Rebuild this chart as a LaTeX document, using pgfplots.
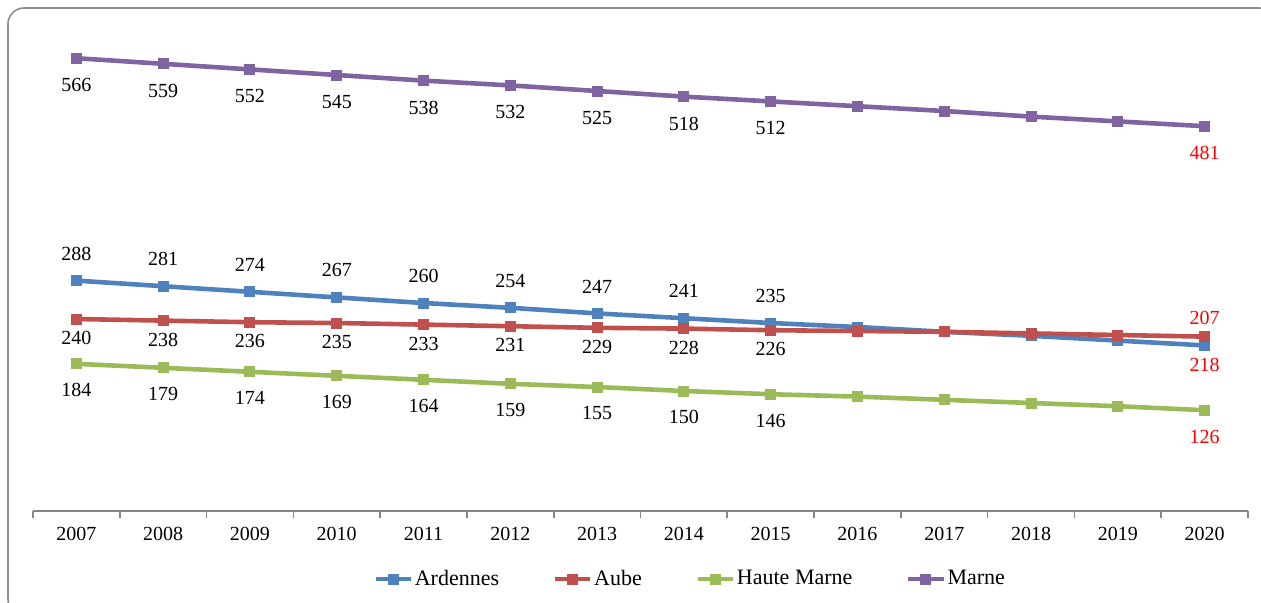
\documentclass[border=0pt]{standalone}
\usepackage{fontspec}
\setmainfont{Liberation Serif}
\usepackage{pgfplots}
\pgfplotsset{compat=1.18}
\definecolor{cArd}{HTML}{4F81BD}
\definecolor{cAube}{HTML}{C0504D}
\definecolor{cHM}{HTML}{9BBB59}
\definecolor{cMarne}{HTML}{8064A2}
\definecolor{frameg}{HTML}{8C8C8C}
\definecolor{axisg}{HTML}{868686}
\begin{document}
\begin{tikzpicture}
\useasboundingbox (-16.5pt,-45.5pt) rectangle (614pt,255.5pt);
\draw[rounded corners=8pt, color=frameg, line width=0.8pt] (-12.5pt,-52pt) rectangle (621pt,251.5pt);
\begin{axis}[
  scale only axis, width=607.5pt, height=240pt,
  xmin=2006.5, xmax=2020.5, ymin=0, ymax=600,
  axis y line=none, axis x line*=bottom,
  x axis line style={-, draw=axisg, line width=0.9pt},
  xtick={2007,2008,...,2020}, major tick length=0pt,
  minor xtick={2006.5,2007.5,...,2020.5}, minor tick length=3.5pt,
  tick align=outside,
  minor tick style={draw=axisg, line width=0.8pt},
  x tick label style={/pgf/number format/1000 sep={}, yshift=-4.5pt, font=\fontsize{10}{12}\selectfont, text=black},
  /pgf/number format/assume math mode=true,
  clip=false,
  legend columns=4,
  legend cell align=left,
  legend style={draw=none, fill=none, at={(rel axis cs:0.5407,-0.1417)}, anchor=center,
    font=\fontsize{11}{12}\selectfont,
    nodes={inner xsep=0.8pt},
    /tikz/every even column/.append style={column sep=26pt}},
  legend image code/.code={\draw[mark repeat=2,mark phase=2,#1] plot coordinates {(0cm,0cm) (0.31cm,0cm) (0.62cm,0cm)};},
  every axis plot/.append style={line width=2.3pt},
  mark size=2.5pt,
]
% series
\addplot[color=cArd, mark=square*, mark options={fill=cArd, line width=0.5pt}] coordinates {
 (2007,288) (2008,281) (2009,274) (2010,267) (2011,260) (2012,254) (2013,247)
 (2014,241) (2015,235) (2016,230) (2017,224) (2018,219) (2019,213) (2020,207)};
\addlegendentry{Ardennes}
\addplot[color=cAube, mark=square*, mark options={fill=cAube, line width=0.5pt}] coordinates {
 (2007,240) (2008,238) (2009,236) (2010,235) (2011,233) (2012,231) (2013,229)
 (2014,228) (2015,226) (2016,225) (2017,224) (2018,222) (2019,220) (2020,218)};
\addlegendentry{Aube}
\addplot[color=cHM, mark=square*, mark options={fill=cHM, line width=0.5pt}] coordinates {
 (2007,184) (2008,179) (2009,174) (2010,169) (2011,164) (2012,159) (2013,155)
 (2014,150) (2015,146) (2016,143) (2017,139) (2018,135) (2019,131) (2020,126)};
\addlegendentry{Haute Marne}
\addplot[color=cMarne, mark=square*, mark options={fill=cMarne, line width=0.5pt}] coordinates {
 (2007,566) (2008,559) (2009,552) (2010,545) (2011,538) (2012,532) (2013,525)
 (2014,518) (2015,512) (2016,506) (2017,500) (2018,493) (2019,487) (2020,481)};
\addlegendentry{Marne}
% data labels
\addplot[draw=none, mark=none, forget plot, nodes near coords, point meta=y,
  every node near coord/.append style={anchor=center, yshift=13.5pt, font=\fontsize{10}{12}\selectfont, text=black}]
 coordinates {(2007,288) (2008,281) (2009,274) (2010,267) (2011,260) (2012,254) (2013,247) (2014,241) (2015,235)};
\addplot[draw=none, mark=none, forget plot, nodes near coords, point meta=y,
  every node near coord/.append style={anchor=center, yshift=-9.6pt, font=\fontsize{10}{12}\selectfont, text=black}]
 coordinates {(2007,240) (2008,238) (2009,236) (2010,235) (2011,233) (2012,231) (2013,229) (2014,228) (2015,226)};
\addplot[draw=none, mark=none, forget plot, nodes near coords, point meta=y,
  every node near coord/.append style={anchor=center, yshift=-13.2pt, font=\fontsize{10}{12}\selectfont, text=black}]
 coordinates {(2007,184) (2008,179) (2009,174) (2010,169) (2011,164) (2012,159) (2013,155) (2014,150) (2015,146)};
\addplot[draw=none, mark=none, forget plot, nodes near coords, point meta=y,
  every node near coord/.append style={anchor=center, yshift=-13.5pt, font=\fontsize{10}{12}\selectfont, text=black}]
 coordinates {(2007,566) (2008,559) (2009,552) (2010,545) (2011,538) (2012,532) (2013,525) (2014,518) (2015,512)};
% red labels at 2020
\addplot[draw=none, mark=none, forget plot, nodes near coords={207},
  every node near coord/.append style={anchor=center, yshift=9.2pt, font=\fontsize{10}{12}\selectfont, text=red}]
 coordinates {(2020,218)};
\addplot[draw=none, mark=none, forget plot, nodes near coords={218},
  every node near coord/.append style={anchor=center, yshift=-9.9pt, font=\fontsize{10}{12}\selectfont, text=red}]
 coordinates {(2020,207)};
\addplot[draw=none, mark=none, forget plot, nodes near coords={126},
  every node near coord/.append style={anchor=center, yshift=-13.4pt, font=\fontsize{10}{12}\selectfont, text=red}]
 coordinates {(2020,126)};
\addplot[draw=none, mark=none, forget plot, nodes near coords={481},
  every node near coord/.append style={anchor=center, yshift=-13.5pt, font=\fontsize{10}{12}\selectfont, text=red}]
 coordinates {(2020,481)};
\end{axis}
\end{tikzpicture}
\end{document}
